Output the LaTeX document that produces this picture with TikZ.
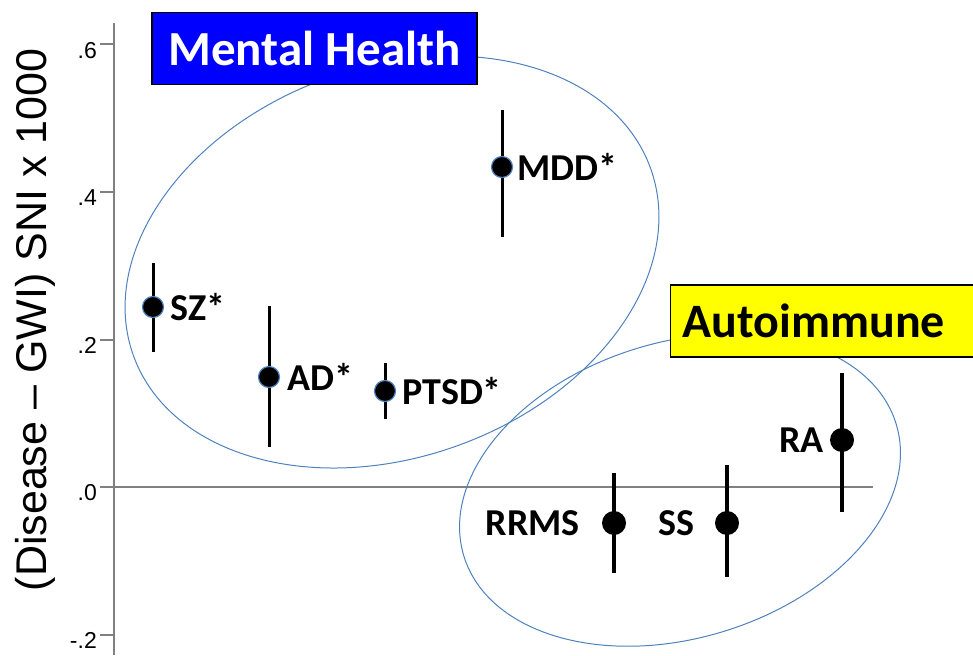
\documentclass[tikz,border=0pt]{standalone}
\usepackage{fontspec}
\setmainfont{Carlito}
\newfontfamily\axisfont{Liberation Sans}
\usepackage{xcolor}
\definecolor{ringblue}{RGB}{79,129,189}
\definecolor{mhblue}{RGB}{0,0,255}
\definecolor{aiyellow}{RGB}{255,255,0}
\definecolor{axisgrey}{RGB}{128,128,128}
\usepackage{tikz}
\usetikzlibrary{positioning}
\newcommand{\fsize}[1]{\fontsize{#1}{#1}\selectfont}
\tikzset{
    axisline/.style={axisgrey, line width=2pt},
    ticklabel/.style={anchor=east, inner sep=0pt, font=\axisfont\fsize{23}},
    ring/.style={ringblue, line width=1pt},
    dot/.style={circle, fill=black, inner sep=0pt, minimum size=#1},
    mhdot/.style={dot=21pt, draw=ringblue, line width=1.2pt},
    aidot/.style={dot=24pt},
    mhbar/.style={line width=3pt},
    aibar/.style={line width=4.5pt},
    lbl/.style={inner sep=0pt, font=\fsize{38}\bfseries},
    title/.style={draw=black, line width=1.2pt, inner sep=0pt, minimum height=72pt, font=\fsize{49}\bfseries}
}

\begin{document}
\begin{tikzpicture}[x=1pt, y=-1pt]
    \useasboundingbox (0,0) rectangle (973,655);

    % axes
    \coordinate (y-top) at (114,23);
    \coordinate (y-bot) at (114,655);
    \coordinate (zero-l) at (114,487);
    \coordinate (zero-r) at (873,487);
    \draw[axisline] (y-top) -- (y-bot);
    \draw[axisline] (zero-l) -- (zero-r);
    \foreach \v/\lab/\i in {0.6/.6/1, 0.4/.4/2, 0.2/.2/3, 0/.0/4, -0.2/-.2/5} {
        \coordinate (tick\i) at (100,487-737.5*\v);
        \draw[axisline] (tick\i) -- ++(14,0);
        \node[ticklabel] (ticklabel\i) at ([xshift=-3pt, yshift=-6pt]tick\i) {\lab};
    }
    \node[rotate=90, font=\axisfont\fsize{43}] (ylabel) at (35,320) {(Disease – GWI) SNI x 1000};

    % group rings, the title boxes hide part of them
    \draw[ring, rotate around={20:(392,262)}] (392,262) ellipse [x radius=275, y radius=195];
    \draw[ring, rotate around={17:(680,490)}] (680,490) ellipse [x radius=226, y radius=148];

    \node[title, fill=mhblue, text=white, minimum width=325pt] (mh-title) at (314.5,48.5) {Mental Health};
    \node[title, fill=aiyellow, anchor=west, inner xsep=12pt, text width=300pt, align=left, font=\fsize{48}\bfseries] (ai-title) at (670,321) {Autoimmune};

    % mental health
    \coordinate (SZ-hi) at (153,263);   \coordinate (SZ-lo) at (153,352);
    \coordinate (AD-hi) at (269,306);   \coordinate (AD-lo) at (269,447);
    \coordinate (PTSD-hi) at (385,363); \coordinate (PTSD-lo) at (385,419);
    \coordinate (MDD-hi) at (502,110);  \coordinate (MDD-lo) at (502,237);
    \draw[mhbar] (SZ-hi) -- (SZ-lo) (AD-hi) -- (AD-lo) (PTSD-hi) -- (PTSD-lo) (MDD-hi) -- (MDD-lo);
    \node[mhdot] (SZ) at (153,307) {};
    \node[mhdot] (AD) at (269,377) {};
    \node[mhdot] (PTSD) at (385,391) {};
    \node[mhdot] (MDD) at (502,167) {};
    \node[lbl, right=6pt of SZ] (SZ-label) {SZ*};
    \node[lbl, right=7pt of AD] (AD-label) {AD*};
    \node[lbl, right=6pt of PTSD] (PTSD-label) {PTSD*};
    \node[lbl, right=4pt of MDD] (MDD-label) {MDD*};

    % autoimmune
    \coordinate (RRMS-hi) at (614,473); \coordinate (RRMS-lo) at (614,573);
    \coordinate (SS-hi) at (727,465);   \coordinate (SS-lo) at (727,577);
    \coordinate (RA-hi) at (842,373);   \coordinate (RA-lo) at (842,512);
    \draw[aibar] (RRMS-hi) -- (RRMS-lo) (SS-hi) -- (SS-lo) (RA-hi) -- (RA-lo);
    \node[aidot] (RRMS) at (614,523) {};
    \node[aidot] (SS) at (727,523) {};
    \node[aidot] (RA) at (842,440) {};
    \node[lbl, left=22pt of RRMS] (RRMS-label) {RRMS};
    \node[lbl, left=20pt of SS] (SS-label) {SS};
    \node[lbl, left=6pt of RA] (RA-label) {RA};
\end{tikzpicture}
\end{document}
